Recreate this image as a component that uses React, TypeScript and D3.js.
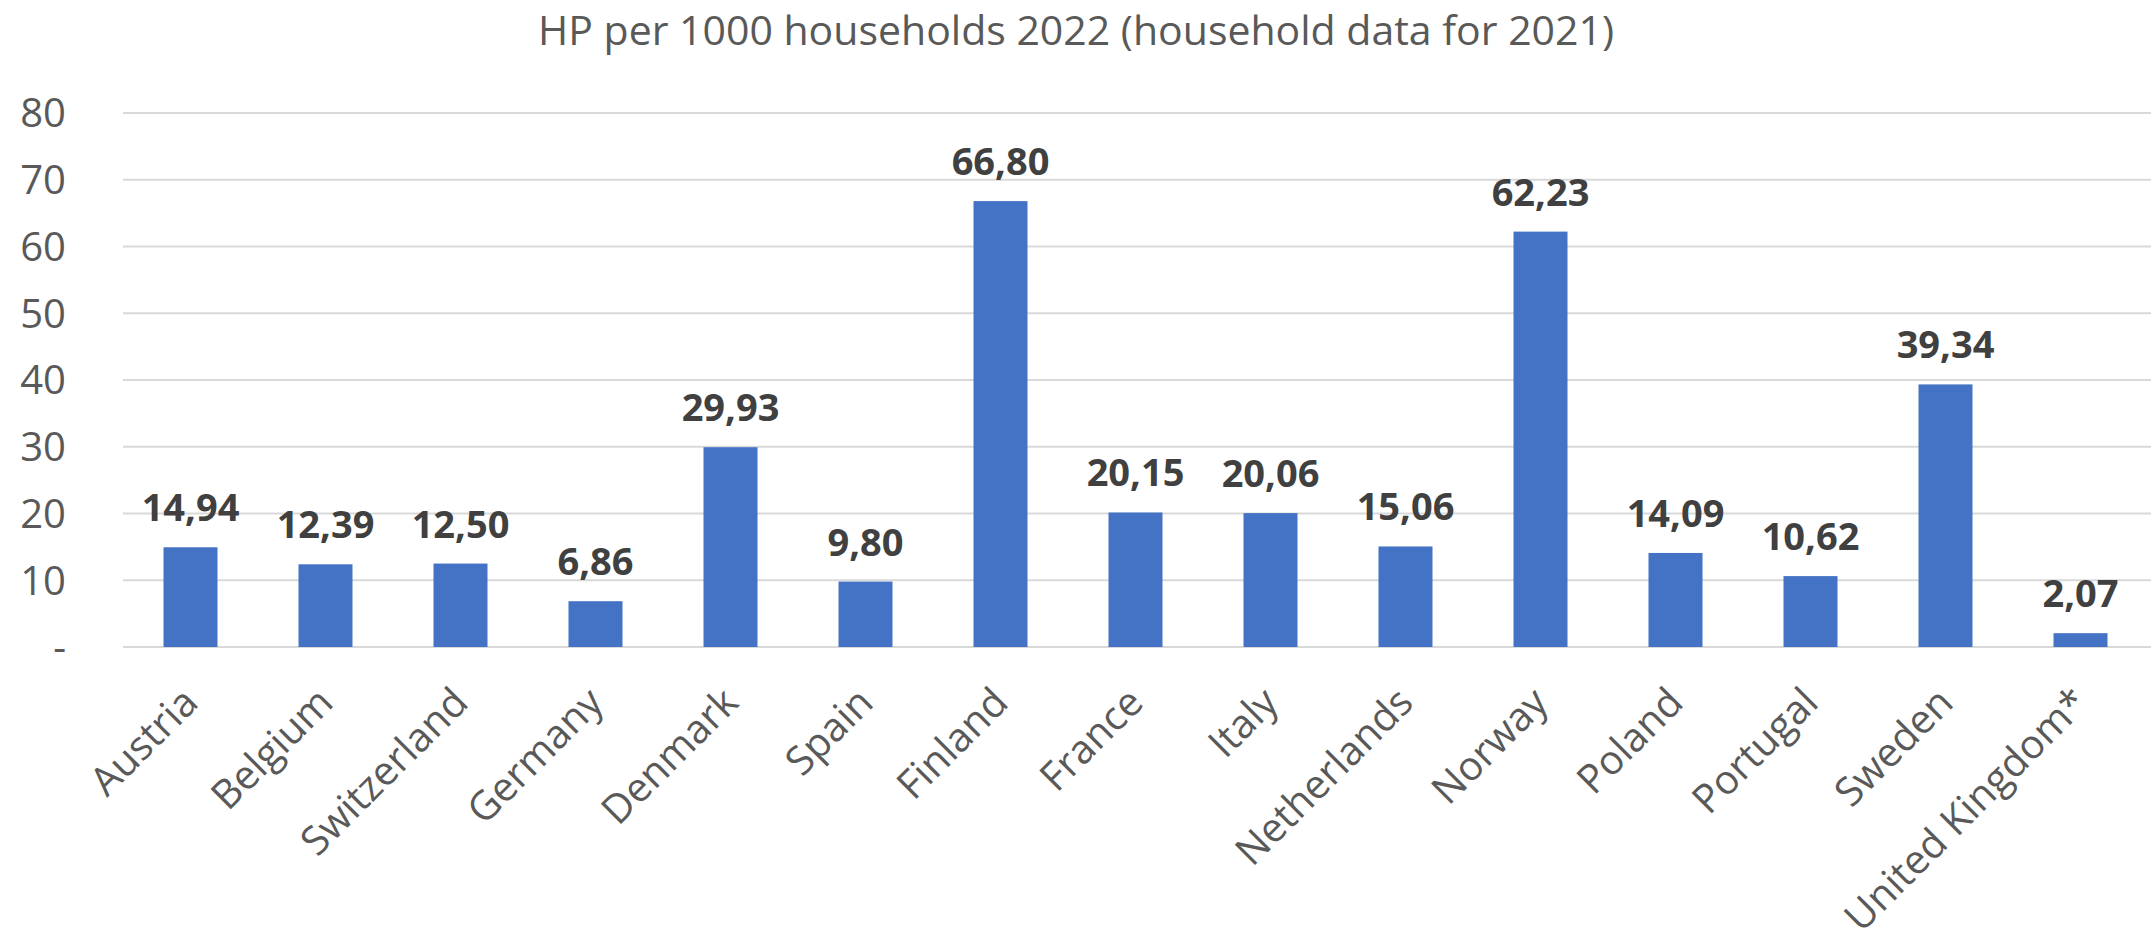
import React, { useEffect, useRef } from "react";
import * as d3 from "d3";

const categories: string[] = [
  "Austria", "Belgium", "Switzerland", "Germany", "Denmark", "Spain", "Finland",
  "France", "Italy", "Netherlands", "Norway", "Poland", "Portugal", "Sweden", "United Kingdom*",
];
const values: number[] = [
  14.94, 12.39, 12.5, 6.86, 29.93, 9.8, 66.8, 20.15, 20.06, 15.06, 62.23, 14.09, 10.62, 39.34, 2.07,
];
const yTicks: number[] = [0, 10, 20, 30, 40, 50, 60, 70, 80];
const title = "HP per 1000 households 2022 (household data for 2021)";

const W = 2151;
const H = 945;
const FONT = "'Open Sans', 'Noto Sans', sans-serif";

export default function App() {
  const ref = useRef<SVGSVGElement | null>(null);

  useEffect(() => {
    const svg = d3.select(ref.current);
    svg.selectAll("*").remove();

    const left = 123, right = 2148, top = 113, bottom = 647;
    const x = d3.scaleBand<string>().domain(categories).range([left, right]).paddingInner(0.6).paddingOuter(0.3);
    const y = d3.scaleLinear().domain([0, 80]).range([bottom, top]);

    svg.append("rect").attr("width", W).attr("height", H).attr("fill", "#ffffff");

    svg.append("text")
      .attr("x", 1076).attr("y", 45)
      .attr("text-anchor", "middle")
      .attr("font-family", FONT).attr("font-size", 41)
      .attr("fill", "#595959")
      .text(title);

    const grid = svg.append("g");
    grid.selectAll("line").data(yTicks).join("line")
      .attr("x1", left).attr("x2", W)
      .attr("y1", (d) => y(d)).attr("y2", (d) => y(d))
      .attr("stroke", "#d9d9d9").attr("stroke-width", 2);

    svg.append("g").selectAll("text").data(yTicks).join("text")
      .attr("x", 66).attr("y", (d) => y(d))
      .attr("dy", "0.36em")
      .attr("text-anchor", "end")
      .attr("font-family", FONT).attr("font-size", 40)
      .attr("fill", "#595959")
      .text((d) => (d === 0 ? "-" : String(d)));

    const data = categories.map((c, i) => ({ c, v: values[i] }));

    svg.append("g").selectAll("rect").data(data).join("rect")
      .attr("x", (d) => x(d.c)!)
      .attr("width", x.bandwidth())
      .attr("y", (d) => y(d.v))
      .attr("height", (d) => y(0) - y(d.v))
      .attr("fill", "#4472c4");

    svg.append("g").selectAll("text").data(data).join("text")
      .attr("x", (d) => x(d.c)! + x.bandwidth() / 2)
      .attr("y", (d) => y(d.v) - 26)
      .attr("text-anchor", "middle")
      .attr("font-family", FONT).attr("font-size", 38).attr("font-weight", "bold")
      .attr("fill", "#404040")
      .text((d) => d3.format(".2f")(d.v).replace(".", ","));

    svg.append("g").selectAll("text").data(categories).join("text")
      .attr("transform", (d) => `translate(${x(d)! + x.bandwidth() / 2 - 10},${bottom + 38}) rotate(-45)`)
      .attr("text-anchor", "end")
      .attr("dy", "0.7em")
      .attr("font-family", FONT).attr("font-size", 40)
      .attr("fill", "#595959")
      .text((d) => d);
  }, []);

  return (
    <svg
      ref={ref}
      width={W}
      height={H}
      style={{ position: "absolute", left: 0, top: 0, display: "block" }}
    />
  );
}
